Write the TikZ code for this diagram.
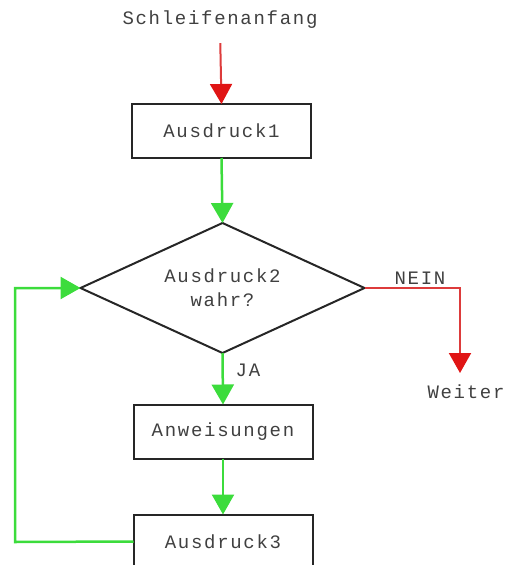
\documentclass[tikz,border=0pt]{standalone}
\usepackage{fontspec}
\setmonofont[LetterSpace=9]{Liberation Mono}
\usetikzlibrary{arrows.meta,shapes.geometric}
\definecolor{lgreen}{HTML}{3CDC3C}
\definecolor{lred}{HTML}{DD3B3B}
\definecolor{dred}{HTML}{E01515}
\definecolor{txt}{HTML}{404040}
\tikzset{
  lbl/.style={font=\ttfamily\fontsize{19}{24}\selectfont, text=txt, inner sep=0pt},
  procbox/.style={draw=black!85, line width=2pt, minimum width=179pt, minimum height=54pt, inner sep=0pt, outer sep=0pt, lbl},
  decision/.style={draw=black!85, line width=2pt, diamond, shape aspect=2.2, minimum width=284pt, minimum height=130pt, inner sep=0pt, outer sep=0pt, lbl, align=center},
  gflow/.style={draw=lgreen, line width=2.5pt, -{Triangle[width=22pt,length=20pt]}},
  rflow/.style={draw=lred, line width=2pt, -{Triangle[width=22pt,length=20pt,color=dred,fill=dred]}},
}
\begin{document}
\begin{tikzpicture}[x=1pt,y=-1pt]
\useasboundingbox (0,0) rectangle (505,565);
\clip (0,0) rectangle (505,565);
\node[lbl] (start) at (220,20) {Schleifenanfang};
\node[procbox] (a1) at (221.5,131) {Ausdruck1};
\node[decision] (d) at (222.5,288) {Ausdruck2\\wahr?};
\node[procbox] (an) at (223,431.5) {Anweisungen};
\node[procbox] (a3) at (223,541.5) {Ausdruck3};
\node[lbl] (w) at (466,392) {Weiter};
\node[lbl] (nein) at (420,278) {NEIN};
\node[lbl] (ja) at (248,370) {JA};
\coordinate (wt) at (460,373);
\coordinate (lb) at (15,542);
\coordinate (lt) at (15,288);

\draw[rflow, shorten <=14pt] (start.south) -- (a1.north);
\draw[gflow] (a1.south) -- (d.north);
\draw[rflow] (d.east) -| (wt);
\draw[gflow] (d.south) -- (an.north);
\draw[gflow] (an.south) -- (a3.north);
\draw[gflow] (a3.west) -- (lb) -- (lt) -- (d.west);
\end{tikzpicture}
\end{document}
